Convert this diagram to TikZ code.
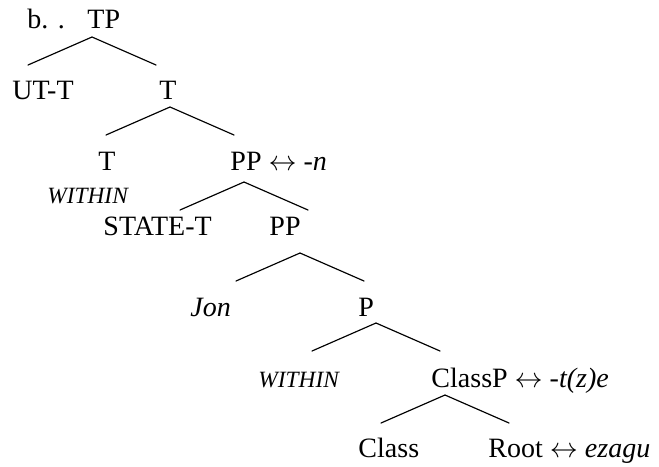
\documentclass[tikz,border=0pt]{standalone}
\usepackage{fontspec}
\setmainfont{Liberation Serif}
\newcommand{\spellout}{\ensuremath{\leftrightarrow}}
\begin{document}
\begin{tikzpicture}[x=0.42857pt,y=-0.42857pt,
    cat/.style={anchor=base west,inner sep=0pt,font=\fontsize{12}{14}\selectfont},
    gloss/.style={anchor=base west,inner sep=0pt,font=\fontsize{10}{12}\selectfont\itshape},
    branch/.style={line width=0.5pt,line cap=round}]
  \useasboundingbox (0,0) rectangle (659,466);

  % labels: left edge and baseline, top to bottom
  \node[cat] (ex) at (27,28) {b. .};
  \node[cat] (tp) at (87,28) {TP};
  \node[cat] (utt) at (12,99) {UT-T};
  \node[cat] (tbar) at (159,99) {T};
  \node[cat] (thead) at (98,170) {T};
  \node[gloss] (within1) at (47,203) {WITHIN};
  \node[cat] (ppn) at (230,170) {PP \spellout{} \textit{-n}};
  \node[cat] (statet) at (103,235) {STATE-T};
  \node[cat] (pp) at (269,235) {PP};
  \node[cat] (jon) at (190,316) {\textit{Jon}};
  \node[cat] (pbar) at (358,316) {P};
  \node[gloss] (within2) at (258,387) {WITHIN};
  \node[cat] (classp) at (431,387) {ClassP \spellout{} \textit{-t(z)e}};
  \node[cat] (class) at (358,457) {Class};
  \node[cat] (root) at (488,457) {Root \spellout{} \textit{ezagu}};

  % branches: apex under the mother, feet 64 to either side
  \foreach \n/\x/\y in {tp/92/37, tbar/170/107, ppn/244/182,
                        pp/300/253, pbar/376/323, classp/445/395}{
    \coordinate (\n-top) at (\x,\y);
    \coordinate (\n-l) at (\x-64,\y+28);
    \coordinate (\n-r) at (\x+64,\y+28);
    \draw[branch] (\n-l) -- (\n-top) -- (\n-r);}
\end{tikzpicture}
\end{document}
